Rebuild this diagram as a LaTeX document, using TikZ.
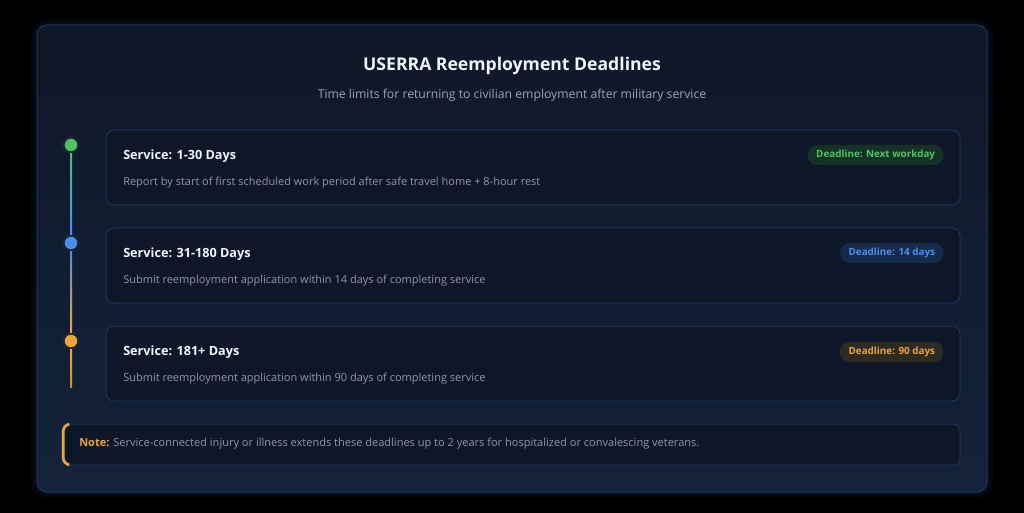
\documentclass[tikz,border=0pt]{standalone}
\usepackage{fontspec}
\setmainfont{Open Sans}
\usetikzlibrary{positioning}

\definecolor{pagebg}{HTML}{000000}
\definecolor{paneltop}{HTML}{0F1828}
\definecolor{panelbot}{HTML}{13223A}
\definecolor{panelline}{HTML}{1F3458}
\definecolor{cardbg}{HTML}{0E1727}
\definecolor{cardline}{HTML}{1E3358}
\definecolor{titletext}{HTML}{F1F4F8}
\definecolor{subtext}{HTML}{9AA5B6}
\definecolor{desctext}{HTML}{8D98A9}
\definecolor{dotring}{HTML}{1A2434}
\definecolor{greenacc}{HTML}{4FC463}
\definecolor{greenbadge}{HTML}{163226}
\definecolor{blueacc}{HTML}{4B8EF0}
\definecolor{bluebadge}{HTML}{162B4C}
\definecolor{orangeacc}{HTML}{EBA53A}
\definecolor{orangebadge}{HTML}{2E2B25}
\definecolor{glow}{HTML}{1D3C6C}

\begin{document}
\begin{tikzpicture}[x=0.75pt, y=-0.75pt,
  card/.style = {rounded corners=6pt, fill=cardbg, draw=cardline, line width=0.75pt,
    minimum width=640.5pt, minimum height=56.25pt, inner sep=0pt},
  dot/.style = {circle, minimum size=11.5pt, inner sep=0pt, draw=dotring, line width=1.9pt},
  ctitle/.style = {anchor=west, inner sep=0pt, text=titletext, font=\fontsize{9.5}{11}\selectfont\bfseries},
  cdesc/.style = {anchor=west, inner sep=0pt, text=desctext, font=\fontsize{8.25}{10}\selectfont},
  badge/.style = {anchor=east, rounded corners=7.5pt, minimum height=15pt, inner xsep=6.5pt,
    inner ysep=0pt, font=\fontsize{7.4}{9}\selectfont\bfseries}
  ]
  \useasboundingbox (0,0) rectangle (1024,513);
  \fill[pagebg] (0,0) rectangle (1024,513);

  % glow round the panel
  \fill[glow, opacity=0.10, rounded corners=12pt] (31,19) rectangle (993,498);
  \fill[glow, opacity=0.12, rounded corners=10pt] (34,22) rectangle (990,495);
  \shade[rounded corners=7.5pt, top color=paneltop, bottom color=panelbot] (37,25) rectangle (987,492);
  \draw[panelline, line width=0.75pt, rounded corners=7.5pt] (37,25) rectangle (987,492);

  % heading
  \node[text=titletext, font=\fontsize{13.2}{16}\selectfont\bfseries] (title) at (512,66) {USERRA Reemployment Deadlines};
  \node[text=subtext, font=\fontsize{9.15}{11}\selectfont] (subtitle) at (512,95) {Time limits for returning to civilian employment after military service};

  % cards
  \node[card] (c1) at (533,167.5) {};
  \node[card] (c2) at (533,265.5) {};
  \node[card] (c3) at (533,363.5) {};

  \node[ctitle] (t1) at (123,156) {Service: 1-30 Days};
  \node[cdesc] (s1) at (123,183) {Report by start of first scheduled work period after safe travel home + 8-hour rest};
  \node[badge, fill=greenbadge, text=greenacc] (b1) at (944,155) {Deadline: Next workday};

  \node[ctitle] (t2) at (123,254) {Service: 31-180 Days};
  \node[cdesc] (s2) at (123,281) {Submit reemployment application within 14 days of completing service};
  \node[badge, fill=bluebadge, text=blueacc] (b2) at (944,253) {Deadline: 14 days};

  \node[ctitle] (t3) at (123,352) {Service: 181+ Days};
  \node[cdesc] (s3) at (123,379) {Submit reemployment application within 90 days of completing service};
  \node[badge, fill=orangebadge, text=orangeacc] (b3) at (944,352) {Deadline: 90 days};

  % timeline
  \node[dot, fill=greenacc] (d1) at (71,145) {};
  \node[dot, fill=blueacc] (d2) at (71,243) {};
  \node[dot, fill=orangeacc] (d3) at (71,341) {};
  \coordinate (tend) at (71,387);
  \shade[top color=greenacc!80!blueacc, bottom color=blueacc] ([xshift=-0.75pt]d1.south) rectangle ([xshift=0.75pt]d2.north);
  \shade[top color=blueacc!80!gray, bottom color=orangeacc] ([xshift=-0.75pt]d2.south) rectangle ([xshift=0.75pt]d3.north);
  \shade[top color=orangeacc, bottom color=orangeacc!85!black] ([xshift=-0.75pt]d3.south) rectangle ([xshift=0.75pt]tend);

  % note
  \draw[cardbg, fill=cardbg, rounded corners=4.5pt] (62,424) rectangle (960,465);
  \draw[cardline, line width=0.75pt, rounded corners=4.5pt] (62,424) rectangle (960,465);
  \draw[orangeacc, line width=2pt, rounded corners=4.5pt] (68,424.4) -- (63.3,425) -- (63.3,464) -- (68,464.6);
  \node[anchor=west, inner sep=0pt, text=desctext, font=\fontsize{8.27}{10}\selectfont] (note) at (79,444)
    {\textcolor{orangeacc}{\bfseries Note:} Service-connected injury or illness extends these deadlines up to 2 years for hospitalized or convalescing veterans.};
\end{tikzpicture}
\end{document}
